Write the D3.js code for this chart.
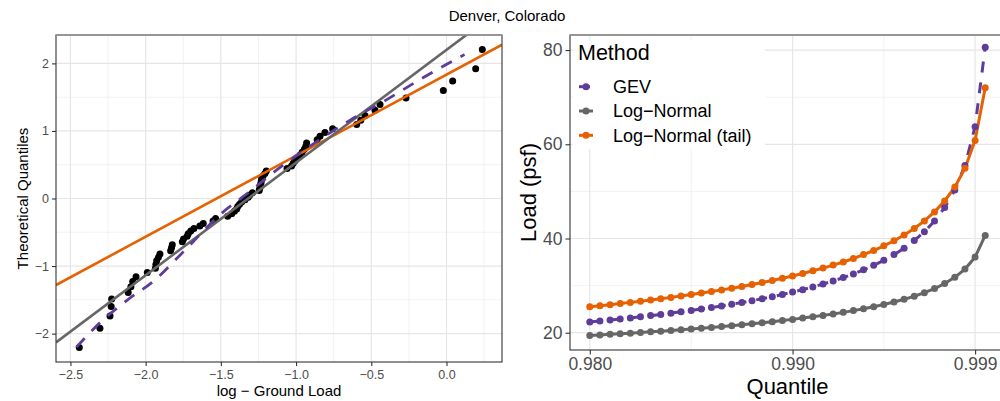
<!DOCTYPE html>
<html>
<head>
<meta charset="utf-8">
<script src="https://cdn.jsdelivr.net/npm/d3@7"></script>
<style>
  body { margin: 0; background: #fff; }
  svg { display: block; font-family: "Liberation Sans", Arial, sans-serif; }
</style>
</head>
<body>
<svg id="chart" width="1000" height="401"></svg>
<script>
const title = 'Denver, Colorado';

// left panel: normal QQ plot of the log ground loads
const theoQuantiles = [-2.205, -1.922, -1.738, -1.600, -1.487, -1.390, -1.305, -1.229, -1.159, -1.094,
    -1.033, -0.977, -0.923, -0.871, -0.822, -0.775, -0.729, -0.685, -0.642, -0.601,
    -0.560, -0.520, -0.482, -0.443, -0.406, -0.369, -0.332, -0.296, -0.261, -0.225,
    -0.190, -0.155, -0.120, -0.086, -0.052, -0.017, 0.017, 0.052, 0.086, 0.120,
    0.155, 0.190, 0.225, 0.261, 0.296, 0.332, 0.369, 0.406, 0.443, 0.482,
    0.520, 0.560, 0.601, 0.642, 0.685, 0.729, 0.775, 0.822, 0.871, 0.923,
    0.977, 1.033, 1.094, 1.159, 1.229, 1.305, 1.390, 1.487, 1.600, 1.738,
    1.922, 2.205];
const logLoad = [-2.441, -2.304, -2.237, -2.229, -2.226, -2.116, -2.098, -2.086, -2.064, -1.989,
    -1.935, -1.932, -1.927, -1.915, -1.905, -1.834, -1.828, -1.823, -1.756, -1.748,
    -1.724, -1.717, -1.700, -1.679, -1.640, -1.617, -1.552, -1.535, -1.455, -1.428,
    -1.410, -1.395, -1.388, -1.376, -1.362, -1.340, -1.318, -1.307, -1.290, -1.245,
    -1.241, -1.237, -1.234, -1.231, -1.229, -1.220, -1.207, -1.198, -1.060, -1.030,
    -1.019, -1.007, -0.998, -0.975, -0.960, -0.945, -0.935, -0.930, -0.860, -0.841,
    -0.808, -0.757, -0.597, -0.570, -0.542, -0.475, -0.442, -0.269, -0.021, 0.041,
    0.194, 0.238];
const gevCurveX = [-2.46, -2.30, -2.12, -1.94, -1.75, -1.48, -1.35, -1.10, -0.85, -0.64, -0.40, -0.17, 0.12];
const gevCurveY = [-2.20, -1.83, -1.50, -1.21, -0.79, -0.19, 0.03, 0.47, 0.86, 1.16, 1.46, 1.77, 2.13];
const refLines = ['Log−Normal (tail)', 'Log−Normal'];
const refIntercepts = [1.833, 2.20];
const refSlopes = [1.1995, 1.668];
const qqXTicks = [-2.5, -2, -1.5, -1, -0.5, 0];
const qqXMinor = [-2.25, -1.75, -1.25, -0.75, -0.25, 0.25];
const qqYTicks = [-2, -1, 0, 1, 2];
const qqYMinor = [-1.5, -0.5, 0.5, 1.5];

// right panel: load against quantile for each method
const methods = ['GEV', 'Log−Normal', 'Log−Normal (tail)'];
const quantile = [0.9800, 0.9805, 0.9810, 0.9815, 0.9820, 0.9825, 0.9830, 0.9835, 0.9840, 0.9845,
    0.9850, 0.9855, 0.9860, 0.9865, 0.9870, 0.9875, 0.9880, 0.9885, 0.9890, 0.9895,
    0.9900, 0.9905, 0.9910, 0.9915, 0.9920, 0.9925, 0.9930, 0.9935, 0.9940, 0.9945,
    0.9950, 0.9955, 0.9960, 0.9965, 0.9970, 0.9975, 0.9980, 0.9985, 0.9990, 0.9995];
const gevLoad = [22.26, 22.47, 22.68, 22.90, 23.14, 23.37, 23.63, 23.88, 24.15, 24.43,
    24.72, 25.03, 25.35, 25.68, 26.04, 26.40, 26.80, 27.21, 27.65, 28.12,
    28.62, 29.14, 29.71, 30.32, 30.98, 31.70, 32.48, 33.35, 34.30, 35.37,
    36.58, 37.95, 39.55, 41.43, 43.72, 46.56, 50.29, 55.50, 63.74, 80.62];
const lnLoad = [19.40, 19.52, 19.65, 19.78, 19.91, 20.04, 20.18, 20.33, 20.47, 20.63,
    20.79, 20.96, 21.13, 21.31, 21.50, 21.70, 21.91, 22.12, 22.34, 22.59,
    22.83, 23.10, 23.38, 23.68, 23.99, 24.32, 24.69, 25.09, 25.51, 25.99,
    26.51, 27.09, 27.74, 28.50, 29.38, 30.44, 31.76, 33.51, 36.05, 40.65];
const lnTailLoad = [25.50, 25.72, 25.95, 26.20, 26.44, 26.68, 26.95, 27.23, 27.50, 27.80,
    28.11, 28.42, 28.75, 29.09, 29.46, 29.83, 30.24, 30.65, 31.09, 31.56,
    32.04, 32.58, 33.14, 33.72, 34.35, 35.02, 35.76, 36.58, 37.45, 38.44,
    39.52, 40.73, 42.12, 43.74, 45.65, 47.97, 50.91, 54.91, 60.82, 72.00];
const quantileTicks = [0.980, 0.990, 0.999];
const quantileMinor = [0.985, 0.9945];
const loadTicks = [20, 40, 60, 80];
const loadMinor = [30, 50, 70];

const colors = {
    'GEV': '#5e3c99',
    'Log−Normal': '#666666',
    'Log−Normal (tail)': '#e66101'
};
const dashed = { 'GEV': '11,10' };

const svg = d3.select('#chart');

svg.append('text')
    .attr('x', 507).attr('y', 21)
    .attr('text-anchor', 'middle')
    .attr('font-size', 15)
    .text(title);

// grid, clip and border shared by both panels
const panel = (id, x, y, o) => {
    const [x0, x1] = x.range();
    const [y1, y0] = y.range();
    const g = svg.append('g');
    g.append('rect').attr('x', x0).attr('y', y0).attr('width', x1 - x0).attr('height', y1 - y0).attr('fill', '#fff');
    const grid = (vals, w, c) => {
        g.append('g').selectAll('line').data(vals[0]).join('line')
            .attr('x1', d => x(d)).attr('x2', d => x(d)).attr('y1', y0).attr('y2', y1)
            .attr('stroke', c).attr('stroke-width', w);
        g.append('g').selectAll('line').data(vals[1]).join('line')
            .attr('y1', d => y(d)).attr('y2', d => y(d)).attr('x1', x0).attr('x2', x1)
            .attr('stroke', c).attr('stroke-width', w);
    };
    grid([o.xMinor, o.yMinor], 0.8, '#efefef');
    grid([o.xTicks, o.yTicks], 1.2, '#e6e6e6');
    svg.append('clipPath').attr('id', id)
        .append('rect').attr('x', x0).attr('y', y0).attr('width', x1 - x0).attr('height', y1 - y0);
    const plot = svg.append('g').attr('clip-path', `url(#${id})`);
    const frame = () => {
        svg.append('rect').attr('x', x0).attr('y', y0).attr('width', x1 - x0).attr('height', y1 - y0)
            .attr('fill', 'none').attr('stroke', '#333').attr('stroke-width', 1.1);
        svg.append('line').attr('x1', x0).attr('x2', x1).attr('y1', y0).attr('y2', y0)
            .attr('stroke', '#999').attr('stroke-width', 1.3);
    };
    return { plot, frame };
};

const styleAxis = (sel, size) => {
    sel.attr('font-family', null).attr('font-size', null);
    sel.select('.domain').remove();
    sel.selectAll('.tick line').attr('stroke', '#333').attr('stroke-width', 1.1);
    sel.selectAll('.tick text').attr('fill', '#4d4d4d').attr('font-size', size);
};

// ---- left: QQ plot
const qqX = d3.scaleLinear().domain([-2.596, 0.369]).range([56, 502]);
const qqY = d3.scaleLinear().domain([-2.42, 2.42]).range([362, 35]);
const left = panel('clipL', qqX, qqY, { xTicks: qqXTicks, xMinor: qqXMinor, yTicks: qqYTicks, yMinor: qqYMinor });

left.plot.selectAll('circle')
    .data(logLoad.map((v, i) => [v, theoQuantiles[i]]))
    .join('circle')
    .attr('cx', d => qqX(d[0]))
    .attr('cy', d => qqY(d[1]))
    .attr('r', 3.5)
    .attr('fill', '#000');

const xd = qqX.domain();
refLines.forEach((name, i) => {
    left.plot.append('line')
        .attr('x1', qqX(xd[0])).attr('y1', qqY(refIntercepts[i] + refSlopes[i] * xd[0]))
        .attr('x2', qqX(xd[1])).attr('y2', qqY(refIntercepts[i] + refSlopes[i] * xd[1]))
        .attr('stroke', colors[name])
        .attr('stroke-width', 2.6);
});

left.plot.append('path')
    .datum(gevCurveX.map((v, i) => [v, gevCurveY[i]]))
    .attr('d', d3.line().x(d => qqX(d[0])).y(d => qqY(d[1])).curve(d3.curveMonotoneX))
    .attr('fill', 'none')
    .attr('stroke', colors['GEV'])
    .attr('stroke-width', 2.8)
    .attr('stroke-dasharray', '12,10');

left.frame();

svg.append('g').attr('transform', 'translate(56,0)')
    .call(d3.axisLeft(qqY).tickValues(qqYTicks).tickSize(4).tickPadding(3).tickFormat(d3.format('d')))
    .call(styleAxis, 12.5);
svg.append('g').attr('transform', 'translate(0,362)')
    .call(d3.axisBottom(qqX).tickValues(qqXTicks).tickSize(4).tickPadding(4).tickFormat(d3.format('.1f')))
    .call(styleAxis, 12.5);

svg.append('text')
    .attr('transform', 'translate(28,198.5) rotate(-90)')
    .attr('text-anchor', 'middle').attr('font-size', 15)
    .text('Theoretical Quantiles');
svg.append('text')
    .attr('x', 279).attr('y', 396)
    .attr('text-anchor', 'middle').attr('font-size', 15)
    .text('log − Ground Load');

// ---- right: load vs quantile
const qX = d3.scaleLinear().domain([0.979025, 1.000475]).range([570, 1005]);
const qY = d3.scaleLinear().domain([16.33, 83.2]).range([350, 35]);
const right = panel('clipR', qX, qY, { xTicks: quantileTicks, xMinor: quantileMinor, yTicks: loadTicks, yMinor: loadMinor });

const series = [gevLoad, lnLoad, lnTailLoad].map((vals, i) => ({
    name: methods[i],
    points: vals.map((v, j) => [quantile[j], v])
}));

const line = d3.line().x(d => qX(d[0])).y(d => qY(d[1]));

right.plot.selectAll('path.series')
    .data(series)
    .join('path')
    .attr('class', 'series')
    .attr('d', d => line(d.points))
    .attr('fill', 'none')
    .attr('stroke', d => colors[d.name])
    .attr('stroke-width', 3)
    .attr('stroke-dasharray', d => dashed[d.name] || null);

series.forEach(s => {
    right.plot.append('g').selectAll('circle')
        .data(s.points)
        .join('circle')
        .attr('cx', d => qX(d[0]))
        .attr('cy', d => qY(d[1]))
        .attr('r', 3.5)
        .attr('fill', colors[s.name]);
});

right.frame();

svg.append('g').attr('transform', 'translate(570,0)')
    .call(d3.axisLeft(qY).tickValues(loadTicks).tickSize(4.5).tickPadding(3).tickFormat(d3.format('d')))
    .call(styleAxis, 17.5);
svg.append('g').attr('transform', 'translate(0,350)')
    .call(d3.axisBottom(qX).tickValues(quantileTicks).tickSize(4.5).tickPadding(3.5).tickFormat(d3.format('.3f')))
    .call(styleAxis, 17.5);

svg.append('text')
    .attr('transform', 'translate(536,192.5) rotate(-90)')
    .attr('text-anchor', 'middle').attr('font-size', 22)
    .text('Load (psf)');
svg.append('text')
    .attr('x', 787.5).attr('y', 393.5)
    .attr('text-anchor', 'middle').attr('font-size', 22)
    .text('Quantile');

// legend
const legend = svg.append('g');
legend.append('rect')
    .attr('x', 573).attr('y', 41).attr('width', 192).attr('height', 108)
    .attr('fill', '#fff');
legend.append('text')
    .attr('x', 578).attr('y', 60)
    .attr('font-size', 21.5)
    .text('Method');
const item = legend.selectAll('g.item')
    .data(methods)
    .join('g')
    .attr('class', 'item')
    .attr('transform', (d, i) => `translate(0,${86.7 + i * 24.3})`);
item.append('line')
    .attr('x1', 579).attr('x2', 593)
    .attr('stroke', d => colors[d])
    .attr('stroke-width', 3)
    .attr('stroke-dasharray', d => dashed[d] || null);
item.append('circle')
    .attr('cx', 586).attr('r', 3.5)
    .attr('fill', d => colors[d]);
item.append('text')
    .attr('x', 613).attr('dy', '0.35em')
    .attr('font-size', 18)
    .text(d => d);
</script>
</body>
</html>
